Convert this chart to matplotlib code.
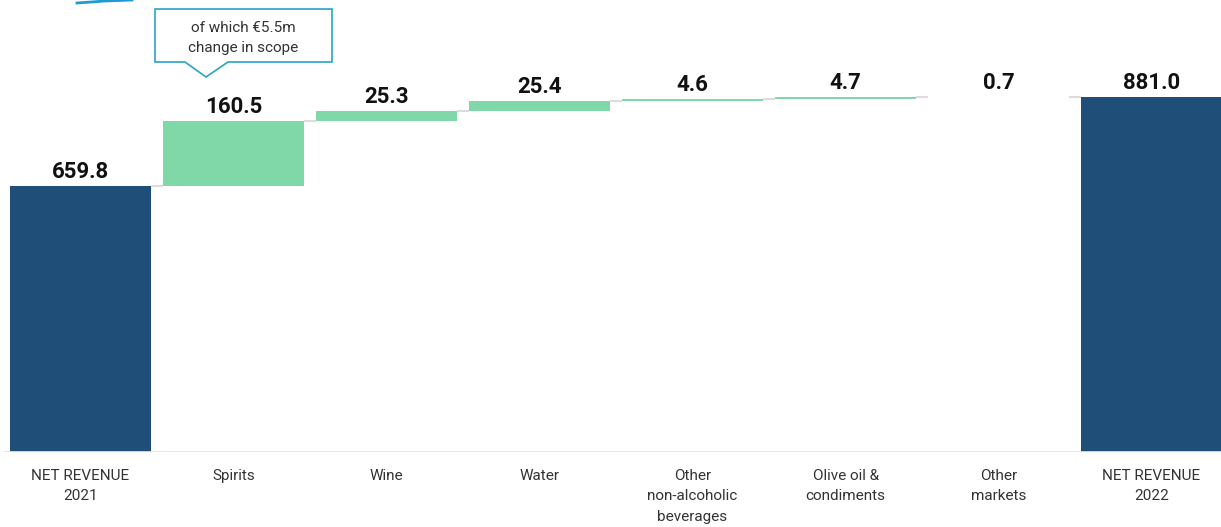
import matplotlib
matplotlib.use("Agg")
import matplotlib.pyplot as plt
from matplotlib.patches import Polygon
import numpy as np

categories = ["NET REVENUE\n2021", "Spirits", "Wine", "Water",
              "Other\nnon-alcoholic\nbeverages", "Olive oil &\ncondiments",
              "Other\nmarkets", "NET REVENUE\n2022"]
start_value = 659.8
deltas = [160.5, 25.3, 25.4, 4.6, 4.7, 0.7]
end_value = 881.0
value_labels = ["659.8", "160.5", "25.3", "25.4", "4.6", "4.7", "0.7", "881.0"]
note_text = "of which €5.5m\nchange in scope"

DARK = "#1F4E78"
GREEN = "#80D8A8"
GRID = "#DCDCDC"
TXT = "#333333"

W, H = 1221, 527
fig = plt.figure(figsize=(W / 100, H / 100), dpi=100)
plt.rcParams['font.family'] = ['Roboto', 'DejaVu Sans']

ax_left = 4 / W
ax_w = 1224 / W
ax_bottom = (H - 452) / H
ax_h = 452 / H
ax = fig.add_axes([ax_left, ax_bottom, ax_w, ax_h])
ymax = 452 / (355 / end_value)
ax.set_xlim(-0.5, 7.5)
ax.set_ylim(0, ymax)

bw = 0.92
n = len(categories)
bottoms = [0]
heights = [start_value]
cum = start_value
for d in deltas:
    bottoms.append(cum)
    heights.append(d)
    cum += d
bottoms.append(0)
heights.append(end_value)
colors = [DARK] + [GREEN] * len(deltas) + [DARK]

x = np.arange(n)
ax.bar(x, heights, bottom=bottoms, width=bw, color=colors, edgecolor="none", zorder=3)

tops = [b + h for b, h in zip(bottoms, heights)]
for i in range(n - 1):
    ax.plot([i + bw / 2, i + 1 - bw / 2], [tops[i], tops[i]], color=GRID, lw=1.5,
            zorder=2, solid_capstyle="butt")

ax.axhline(0, color="#E3E3E3", lw=2, zorder=4)

for i in range(n):
    ax.annotate(value_labels[i], (x[i], tops[i]), xytext=(0, 2.5), textcoords="offset points",
                ha="center", va="bottom", fontsize=16, fontweight="bold", color="#111111",
                annotation_clip=False)

ax.set_xticks(x)
ax.set_xticklabels(categories, fontsize=11, color=TXT, linespacing=1.62, va="top")
ax.tick_params(axis="x", length=0, pad=12)
ax.set_yticks([])
for s in ax.spines.values():
    s.set_visible(False)

def fx(px):
    return px / W
def fy(py):
    return 1 - py / H

box = [(155, 9), (332, 9), (332, 62), (228, 62), (206, 77), (185, 62), (155, 62)]
poly = Polygon([(fx(a), fy(b)) for a, b in box], closed=True, transform=fig.transFigure,
               facecolor="white", edgecolor="#2AA3C8", lw=1.2)
fig.patches.append(poly)
fig.text(fx(243.5), fy(38), note_text, ha="center", va="center", fontsize=11,
         color=TXT, linespacing=1.6)

fig.add_artist(plt.Line2D([fx(77), fx(105), fx(132)], [fy(3), fy(1), fy(0)],
                          transform=fig.transFigure, color="#1E9BD7", lw=2))

fig.savefig("out.png", dpi=100)
